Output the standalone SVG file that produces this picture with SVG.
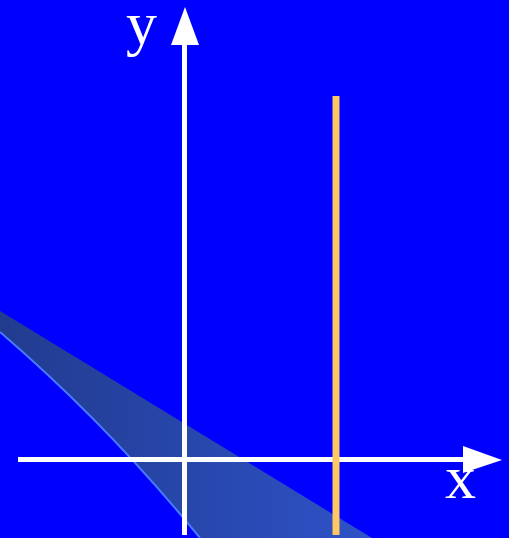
<svg xmlns="http://www.w3.org/2000/svg" width="509" height="538" viewBox="0 0 509 538">
<defs>
<linearGradient id="band" x1="0" y1="0" x2="1" y2="0">
<stop offset="0" stop-color="#213b8e"/>
<stop offset="1" stop-color="#2e52c8"/>
</linearGradient>
<style>
.axis{stroke:#fff;stroke-width:5;fill:none}
.head{fill:#fff}
.lbl{font-family:"Liberation Serif",serif;font-size:62px;fill:#fff}
</style>
</defs>
<rect width="509" height="538" fill="#0000ff"/>
<g id="region">
<path d="M0,311 L372,538 L200,538 Q108,425 0,332 Z" fill="url(#band)"/>
<path d="M0,332 Q108,425 200,538" fill="none" stroke="#4a7bff" stroke-width="2"/>
</g>
<g id="connectors">
<line class="axis" x1="18" y1="459.5" x2="466" y2="459.5"/>
<polygon class="head" points="502,460 463,446 463,473"/>
<line class="axis" x1="184.5" y1="535" x2="184.5" y2="42"/>
<polygon class="head" points="185,7 171,45 199,45"/>
</g>
<g id="line">
<line x1="336" y1="96" x2="336" y2="535" stroke="#ffc864" stroke-width="7"/>
</g>
<g id="labels">
<text class="lbl" x="126" y="44">y</text>
<text class="lbl" x="445" y="498">x</text>
</g>
</svg>
